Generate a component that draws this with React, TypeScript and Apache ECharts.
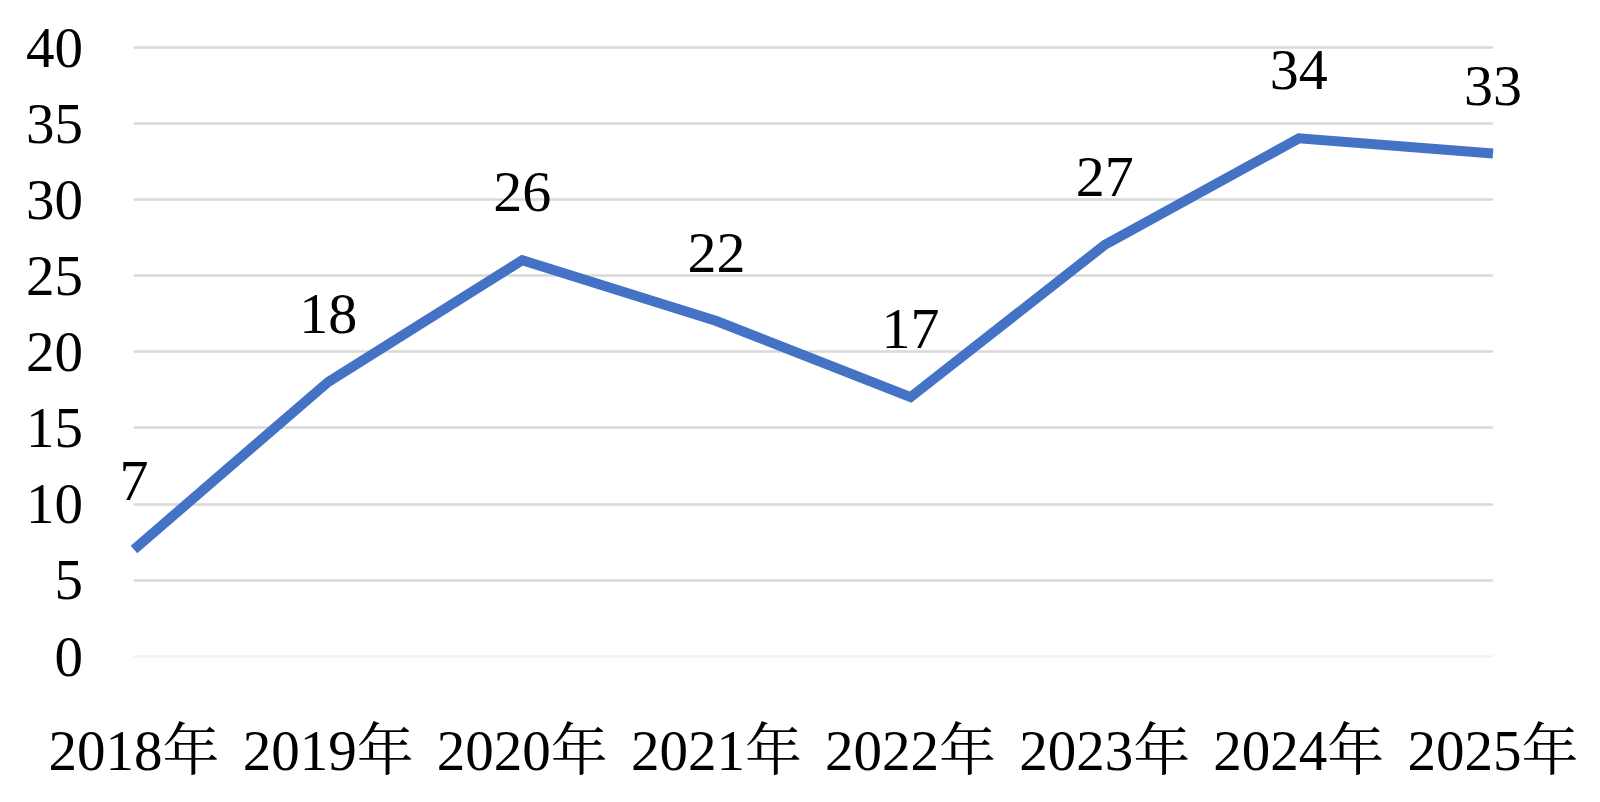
import React, { useEffect, useRef } from "react";
import * as echarts from "echarts";

const categories = ["2018年", "2019年", "2020年", "2021年", "2022年", "2023年", "2024年", "2025年"];
const values = [7, 18, 26, 22, 17, 27, 34, 33];
const yTicks = { min: 0, max: 40, interval: 5 };

const FONT = "'Liberation Serif', 'Times New Roman', 'Noto Serif CJK SC', 'Noto Sans CJK SC', serif";

export default function App() {
  const ref = useRef<HTMLDivElement>(null);
  useEffect(() => {
    const chart = echarts.init(ref.current!, null, { renderer: "svg" });
    chart.setOption({
      animation: false,
      backgroundColor: "#ffffff",
      grid: { left: 134, right: 107, top: 47, bottom: 146, containLabel: false },
      xAxis: {
        type: "category",
        data: categories,
        boundaryGap: false,
        axisLine: { show: false },
        axisTick: { show: false },
        axisLabel: { color: "#000", fontSize: 57, fontFamily: FONT, margin: 66, interval: 0 },
      },
      yAxis: {
        type: "value",
        min: yTicks.min,
        max: yTicks.max,
        interval: yTicks.interval,
        axisLine: { show: false },
        axisTick: { show: false },
        axisLabel: { color: "#000", fontSize: 57, fontFamily: FONT, margin: 51 },
        splitLine: {
          lineStyle: {
            color: ["#f2f2f2", "#d9d9d9", "#d9d9d9", "#d9d9d9", "#d9d9d9", "#d9d9d9", "#d9d9d9", "#d9d9d9", "#d9d9d9"],
            width: 2.5,
          },
        },
      },
      series: [
        {
          type: "line",
          data: values,
          symbol: "circle",
          symbolSize: 1,
          showSymbol: true,
          lineStyle: { color: "#4472C4", width: 10, join: "miter" },
          itemStyle: { color: "rgba(68,114,196,0)", borderWidth: 0 },
          label: {
            show: true,
            position: "top",
            distance: 39,
            color: "#000",
            fontSize: 58,
            fontFamily: FONT,
          },
        },
      ],
    });
    return () => chart.dispose();
  }, []);
  return <div ref={ref} style={{ position: "fixed", left: 0, top: 0, width: 1600, height: 802 }} />;
}
